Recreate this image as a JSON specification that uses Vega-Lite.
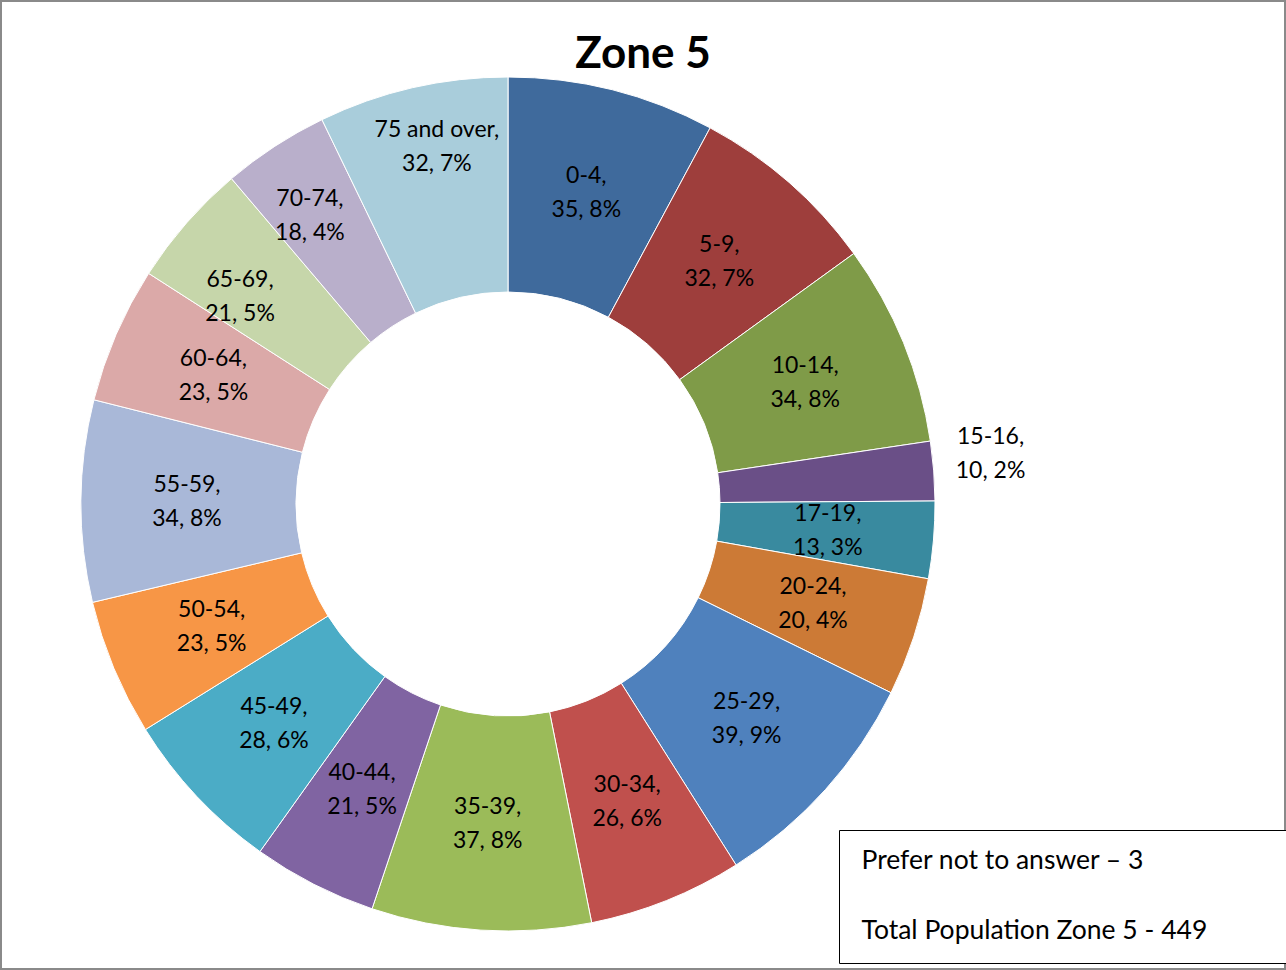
{
  "$schema": "https://vega.github.io/schema/vega-lite/v6.json",
  "autosize": {"type": "none"},
  "width": 1286,
  "height": 970,
  "padding": 0,
  "background": "white",
  "title": {"text": "Zone 5", "font": "Lato", "fontSize": 44, "fontWeight": "bold", "color": "black", "anchor": "middle", "offset": -77},
  "config": {"view": {"stroke": "#8a8a8a", "strokeWidth": 4}},
  "encoding": {
    "x": {"datum": 508, "type": "quantitative", "scale": {"domain": [0, 1286], "nice": false, "zero": false}, "axis": null},
    "y": {"datum": 504, "type": "quantitative", "scale": {"domain": [0, 970], "nice": false, "zero": false, "reverse": true}, "axis": null}
  },
  "layer": [
    {
      "data": {"name": "ages", "values": [
        {"idx": 1, "group": "0-4", "value": 35, "label": "0-4,\n35, 8%"},
        {"idx": 2, "group": "5-9", "value": 32, "label": "5-9,\n32, 7%"},
        {"idx": 3, "group": "10-14", "value": 34, "label": "10-14,\n34, 8%"},
        {"idx": 4, "group": "15-16", "value": 10, "label": "15-16,\n10, 2%"},
        {"idx": 5, "group": "17-19", "value": 13, "label": "17-19,\n13, 3%"},
        {"idx": 6, "group": "20-24", "value": 20, "label": "20-24,\n20, 4%"},
        {"idx": 7, "group": "25-29", "value": 39, "label": "25-29,\n39, 9%"},
        {"idx": 8, "group": "30-34", "value": 26, "label": "30-34,\n26, 6%"},
        {"idx": 9, "group": "35-39", "value": 37, "label": "35-39,\n37, 8%"},
        {"idx": 10, "group": "40-44", "value": 21, "label": "40-44,\n21, 5%"},
        {"idx": 11, "group": "45-49", "value": 28, "label": "45-49,\n28, 6%"},
        {"idx": 12, "group": "50-54", "value": 23, "label": "50-54,\n23, 5%"},
        {"idx": 13, "group": "55-59", "value": 34, "label": "55-59,\n34, 8%"},
        {"idx": 14, "group": "60-64", "value": 23, "label": "60-64,\n23, 5%"},
        {"idx": 15, "group": "65-69", "value": 21, "label": "65-69,\n21, 5%"},
        {"idx": 16, "group": "70-74", "value": 18, "label": "70-74,\n18, 4%"},
        {"idx": 17, "group": "75 and over", "value": 32, "label": "75 and over,\n32, 7%"}
      ]},
      "encoding": {
        "theta": {"field": "value", "type": "quantitative", "stack": true},
        "order": {"field": "idx", "type": "quantitative"}
      },
      "layer": [
        {
          "mark": {"type": "arc", "outerRadius": 427, "innerRadius": 212, "stroke": "white", "strokeWidth": 1},
          "encoding": {
            "color": {"field": "group", "type": "nominal", "legend": null,
              "scale": {"domain": ["0-4","5-9","10-14","15-16","17-19","20-24","25-29","30-34","35-39","40-44","45-49","50-54","55-59","60-64","65-69","70-74","75 and over"],
                "range": ["#3F6A9C","#9E3E3C","#7F9B48","#6A4F87","#398A9F","#CC7A36","#4F81BD","#C0504D","#9BBB59","#8064A2","#4BACC6","#F79646","#A9B8D8","#DBA9A8","#C6D6AA","#B9AFCB","#A9CDDB"]}}
          }
        },
        {
          "mark": {"type": "text", "radius": 321, "dy": -17, "font": "Lato", "fontSize": 23, "lineHeight": 34, "lineBreak": "\n", "color": "black", "align": "center", "baseline": "middle"},
          "encoding": {
            "text": {"condition": {"test": "indexof(['15-16','65-69','70-74','75 and over'], datum.group) >= 0", "value": ""}, "field": "label", "type": "nominal"}
          }
        },
        {
          "mark": {"type": "text", "radius": 484, "dy": -30, "font": "Lato", "fontSize": 23, "lineHeight": 34, "lineBreak": "\n", "color": "black", "align": "center", "baseline": "middle"},
          "encoding": {
            "text": {"condition": {"test": "datum.group == '15-16'", "field": "label", "type": "nominal"}, "value": ""},
            "size": {"condition": {"test": "datum.group == '15-16'", "value": 23}, "value": 0}
          }
        },
        {
          "mark": {"type": "text", "radius": 340, "dx": -12, "dy": 0, "font": "Lato", "fontSize": 23, "lineHeight": 34, "lineBreak": "\n", "color": "black", "align": "center", "baseline": "middle"},
          "encoding": {
            "text": {"condition": {"test": "datum.group == '65-69'", "field": "label", "type": "nominal"}, "value": ""},
            "size": {"condition": {"test": "datum.group == '65-69'", "value": 23}, "value": 0}
          }
        },
        {
          "mark": {"type": "text", "radius": 350, "dx": -7, "dy": -12, "font": "Lato", "fontSize": 23, "lineHeight": 34, "lineBreak": "\n", "color": "black", "align": "center", "baseline": "middle"},
          "encoding": {
            "text": {"condition": {"test": "datum.group == '70-74'", "field": "label", "type": "nominal"}, "value": ""},
            "size": {"condition": {"test": "datum.group == '70-74'", "value": 23}, "value": 0}
          }
        },
        {
          "mark": {"type": "text", "radius": 363, "dx": 10, "dy": -20, "font": "Lato", "fontSize": 23, "lineHeight": 34, "lineBreak": "\n", "color": "black", "align": "center", "baseline": "middle"},
          "encoding": {
            "text": {"condition": {"test": "datum.group == '75 and over'", "field": "label", "type": "nominal"}, "value": ""},
            "size": {"condition": {"test": "datum.group == '75 and over'", "value": 23}, "value": 0}
          }
        }
      ]
    },
    {
      "data": {"values": [{"note": "Prefer not to answer – 3"}, {"note": "Total Population Zone 5 - 449"}]},
      "mark": {"type": "point", "opacity": 0},
      "encoding": {
        "shape": {"field": "note", "type": "nominal", "sort": null,
          "legend": {"title": ".", "titleOrient": "right", "titleOpacity": 0, "titleFontSize": 20, "titlePadding": 56,
            "orient": "none", "legendX": 839, "legendY": 830, "strokeColor": "black", "fillColor": "white", "padding": 18, "rowPadding": 43, "labelFont": "Lato", "labelFontSize": 26.5, "labelColor": "black", "labelLimit": 0, "labelOffset": -22, "symbolSize": 0, "symbolOpacity": 0, "symbolStrokeWidth": 0}}
      }
    }
  ]
}
